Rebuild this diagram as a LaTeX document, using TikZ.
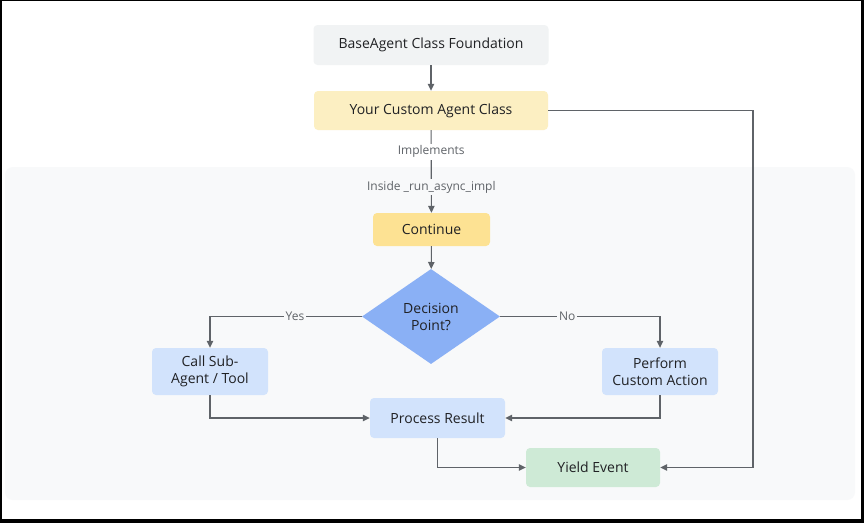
\documentclass[tikz,border=0pt]{standalone}
\usepackage{fontspec}
\setmainfont{Open Sans}
\usetikzlibrary{shapes.geometric,arrows.meta}
\definecolor{panelbg}{HTML}{F8F9FA}
\definecolor{greybox}{HTML}{F1F3F4}
\definecolor{paleyellow}{HTML}{FCEFC2}
\definecolor{goldbox}{HTML}{FDE293}
\definecolor{bluebox}{HTML}{D2E3FC}
\definecolor{diamondblue}{HTML}{8AB0F5}
\definecolor{greenbox}{HTML}{CEEAD6}
\definecolor{inktext}{HTML}{202124}
\definecolor{linkgrey}{HTML}{5F6368}
\definecolor{labelgrey}{HTML}{5F6368}
\begin{document}
\begin{tikzpicture}[x=1pt,y=-1pt,
    box/.style={rounded corners=4pt, align=center, inner sep=2pt, text=inktext,
      font=\fontsize{14}{17}\selectfont},
    link/.style={draw=linkgrey, line width=1.1pt, -{Triangle[length=7pt,width=6.5pt]}},
    lbl/.style={font=\fontsize{12}{14}\selectfont, text=labelgrey, inner sep=2pt}]
  \useasboundingbox (0,0) rectangle (864,523);
  % frame and panel
  \fill[black] (0,0) rectangle (864,523);
  \fill[white] (2,1) rectangle (861,519);
  \fill[panelbg, rounded corners=8pt] (5,167) rectangle (855,500);
  % nodes
  \node[box, fill=greybox, minimum width=235pt, minimum height=40pt] (base) at (431,45) {BaseAgent Class Foundation};
  \node[box, fill=paleyellow, minimum width=234pt, minimum height=39pt] (custom) at (431,110.5) {Your Custom Agent Class};
  \node[box, fill=goldbox, minimum width=117pt, minimum height=33pt] (cont) at (431.5,229.5) {Continue};
  \node[diamond, fill=diamondblue, minimum width=138pt, minimum height=95pt, inner sep=0pt,
    align=center, text=inktext, font=\fontsize{14}{17}\selectfont] (dec) at (431,316.5) {Decision\\Point?};
  \node[box, fill=bluebox, minimum width=116pt, minimum height=47pt] (call) at (210,371.5) {Call Sub-\\Agent / Tool};
  \node[box, fill=bluebox, minimum width=116pt, minimum height=47pt] (perf) at (660,371.5) {Perform\\Custom Action};
  \node[box, fill=bluebox, minimum width=135pt, minimum height=40pt] (proc) at (437.5,418) {Process Result};
  \node[box, fill=greenbox, minimum width=134pt, minimum height=39pt] (yield) at (593,467.5) {Yield Event};
  \coordinate (turn) at (753,110.5);
  % connectors
  \draw[link] (base) -- (custom);
  \draw[link] (custom) -- node[lbl, fill=white, pos=0.26] {Implements}
    node[lbl, fill=panelbg, pos=0.69] {Inside \_run\_async\_impl} (cont);
  \draw[link] (cont) -- (dec);
  \draw[link] (dec.west) -| node[lbl, fill=panelbg, pos=0.22] {Yes} (call.north);
  \draw[link] (dec.east) -| node[lbl, fill=panelbg, pos=0.21] {No} (perf.north);
  \draw[link] (call.south) |- (proc.west);
  \draw[link] (perf.south) |- (proc.east);
  \draw[link] (proc.south) |- (yield.west);
  \draw[link] (custom.east) -- (turn) |- (yield.east);
\end{tikzpicture}
\end{document}
